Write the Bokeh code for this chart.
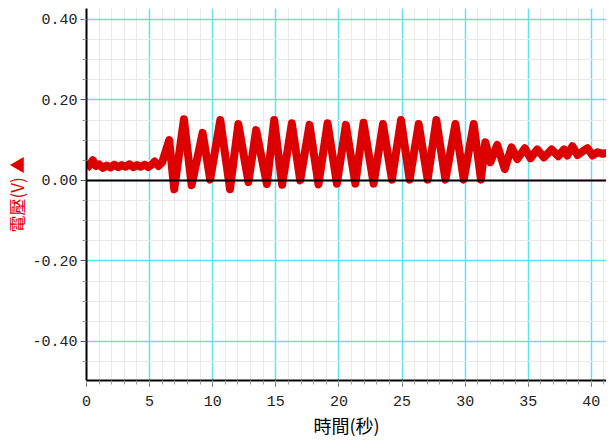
from bokeh.plotting import figure
from bokeh.models import FixedTicker, NumeralTickFormatter, Span, Range1d
from bokeh.embed import file_html
from bokeh.resources import INLINE

# time (s) and voltage (V)
time_s = [0.0, 0.25, 0.5, 0.75, 1.0, 1.3, 1.6, 1.9, 2.2, 2.5, 2.8, 3.1, 3.4, 3.7, 4.0,
          4.3, 4.6, 4.9, 5.2, 5.4, 5.7, 6.0, 6.55, 6.95, 7.72, 8.33, 9.2, 9.8, 10.6,
          11.37, 12.03, 12.83, 13.44, 14.29, 14.87, 15.5, 16.27, 16.93, 17.67, 18.38,
          19.1, 19.84, 20.55, 21.3, 21.95, 22.75, 23.49, 24.2, 24.92, 25.6, 26.32,
          27.03, 27.72, 28.44, 29.23, 29.89, 30.68, 31.25, 31.6, 32.0, 32.54, 33.14,
          33.67, 34.13, 34.73, 35.18, 35.71, 36.24, 36.85, 37.38, 37.83, 38.1, 38.5,
          38.9, 39.3, 39.7, 40.1, 40.5, 40.9, 41.2]
volt_v = [0.030, 0.038, 0.050, 0.036, 0.040, 0.031, 0.037, 0.032, 0.039, 0.033, 0.038,
          0.034, 0.040, 0.033, 0.038, 0.034, 0.039, 0.033, 0.040, 0.047, 0.036, 0.045,
          0.100, -0.022, 0.152, -0.012, 0.118, 0.002, 0.150, -0.022, 0.140, -0.004,
          0.125, -0.009, 0.150, -0.011, 0.142, 0.000, 0.138, -0.010, 0.142, -0.008,
          0.138, -0.008, 0.143, -0.008, 0.140, 0.002, 0.150, 0.002, 0.140, 0.002,
          0.150, 0.002, 0.140, 0.002, 0.140, 0.002, 0.095, 0.045, 0.088, 0.028, 0.082,
          0.053, 0.080, 0.055, 0.077, 0.057, 0.077, 0.060, 0.077, 0.062, 0.085, 0.063,
          0.072, 0.080, 0.062, 0.070, 0.066, 0.068]

x_major = [0, 5, 10, 15, 20, 25, 30, 35, 40]
x_minor = list(range(0, 42))
y_major = [-0.4, -0.2, 0.0, 0.2, 0.4]
y_minor = [-0.5, -0.45, -0.35, -0.3, -0.25, -0.15, -0.1, -0.05, 0.05, 0.1, 0.15, 0.25, 0.3, 0.35, 0.4]

p = figure(width=606, height=440, output_backend="svg", toolbar_location=None,
           x_range=Range1d(0, 41.2), y_range=Range1d(-0.497, 0.427),
           min_border_left=86, min_border_right=0, min_border_top=8, min_border_bottom=59)
p.outline_line_color = None
p.background_fill_color = "white"

p.xaxis.ticker = FixedTicker(ticks=x_major, minor_ticks=x_minor)
p.yaxis.ticker = FixedTicker(ticks=y_major, minor_ticks=y_minor)
p.yaxis.formatter = NumeralTickFormatter(format="0.00")

for g in (p.xgrid, p.ygrid):
    g.grid_line_color = "#5fe3f0"
    g.grid_line_width = 1.5
    g.minor_grid_line_color = "#e9e9e9"
    g.minor_grid_line_width = 1

for ax in (p.xaxis, p.yaxis):
    ax.axis_line_color = "black"
    ax.axis_line_width = 2
    ax.major_tick_line_color = "#555555"
    ax.major_tick_out = 6
    ax.major_tick_in = 0
    ax.minor_tick_line_color = "#999999"
    ax.minor_tick_out = 4
    ax.minor_tick_in = 0
    ax.major_label_text_font = "Liberation Mono"
    ax.major_label_text_font_size = "15px"
    ax.major_label_text_color = "#222222"
    ax.axis_label_text_font_style = "normal"
    ax.axis_label_text_font = "Noto Sans CJK TC"

p.xaxis.major_label_standoff = 9
p.yaxis.major_label_standoff = 3
p.xaxis.axis_label = "時間(秒)"
p.xaxis.axis_label_text_font_size = "18px"
p.xaxis.axis_label_text_color = "black"
p.xaxis.axis_label_standoff = 3
p.yaxis.axis_label = "電壓(V) ▲"
p.yaxis.axis_label_text_font_size = "17px"
p.yaxis.axis_label_text_color = "#e00000"
p.yaxis.axis_label_standoff = 0

p.add_layout(Span(location=0, dimension="width", line_color="black", line_width=2))

p.line(time_s, volt_v, line_color="#dd0000", line_width=8, line_join="round")

open("out.html", "w").write(file_html(p, INLINE))
